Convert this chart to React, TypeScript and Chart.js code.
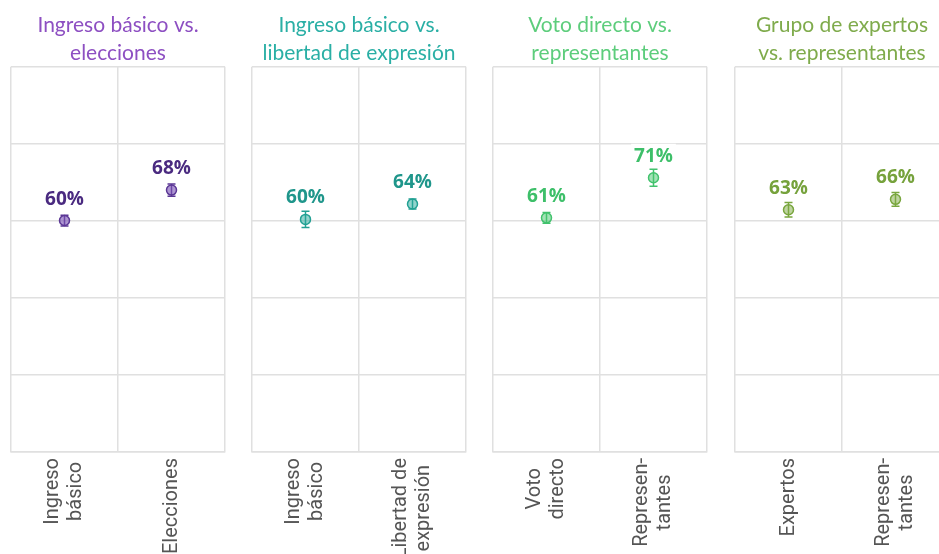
import React, { useEffect, useRef } from 'react';
import { Chart, registerables } from 'chart.js';

Chart.register(...registerables);

// ---- data ----
const panelTitles: string[][] = [
  ['Ingreso básico vs.', 'elecciones'],
  ['Ingreso básico vs.', 'libertad de expresión'],
  ['Voto directo vs.', 'representantes'],
  ['Grupo de expertos', 'vs. representantes'],
];
const categoryLines: string[][][] = [
  [['Ingreso', 'básico'], ['Elecciones']],
  [['Ingreso', 'básico'], ['Libertad de', 'expresión']],
  [['Voto', 'directo'], ['Represen-', 'tantes']],
  [['Expertos'], ['Represen-', 'tantes']],
];
const panel1Values = [60.1, 68.0];
const panel2Values = [60.4, 64.4];
const panel3Values = [60.8, 71.2];
const panel4Values = [62.9, 65.6];
const panel1Errors = [1.4, 1.6];
const panel2Errors = [2.1, 1.3];
const panel3Errors = [1.4, 2.2];
const panel4Errors = [1.9, 1.8];
const yMin = 0;
const yMax = 100;
const yStep = 20;

const panelValues = [panel1Values, panel2Values, panel3Values, panel4Values];
const panelErrors = [panel1Errors, panel2Errors, panel3Errors, panel4Errors];

// ---- styles ----
const titleColors = ['#8d4fc2', '#2aafa5', '#5dcd7c', '#7fab4c'];
const labelColors = ['#4a2a80', '#1f968b', '#3dbf69', '#76a23c'];
const pointFills = ['rgba(120,80,180,0.6)', 'rgba(40,170,155,0.5)', 'rgba(70,200,110,0.5)', 'rgba(125,170,65,0.5)'];
const pointBorders = ['#5b3795', '#22a093', '#42c26d', '#79a63e'];
const plotLefts = [11, 252, 493, 735];
const plotWidth = 214;
const sidePad = 10;
const canvasHeight = 554;
const gridColor = '#e0e0e0';

function makePanelPlugin(p: number) {
  return {
    id: 'panelDecor' + p,
    beforeDatasetsDraw(chart: any) {
      const ctx = chart.ctx;
      const meta = chart.getDatasetMeta(0);
      const ys = chart.scales.y;
      ctx.save();
      ctx.strokeStyle = pointBorders[p];
      ctx.lineWidth = 1.5;
      panelValues[p].forEach((v, i) => {
        const pt = meta.data[i];
        const e = panelErrors[p][i];
        const top = ys.getPixelForValue(v + e);
        const bot = ys.getPixelForValue(v - e);
        ctx.beginPath();
        ctx.moveTo(pt.x, top);
        ctx.lineTo(pt.x, bot);
        ctx.moveTo(pt.x - 4, top);
        ctx.lineTo(pt.x + 4, top);
        ctx.moveTo(pt.x - 4, bot);
        ctx.lineTo(pt.x + 4, bot);
        ctx.stroke();
      });
      ctx.restore();
    },
    afterDatasetsDraw(chart: any) {
      const ctx = chart.ctx;
      const meta = chart.getDatasetMeta(0);
      ctx.save();
      ctx.font = 'bold 19px "Open Sans", "Noto Sans", sans-serif';
      ctx.textAlign = 'center';
      ctx.textBaseline = 'alphabetic';
      panelValues[p].forEach((v, i) => {
        const pt = meta.data[i];
        const txt = Math.round(v) + '%';
        const w = ctx.measureText(txt).width;
        const by = pt.y - 16;
        ctx.fillStyle = '#ffffff';
        ctx.fillRect(pt.x - w / 2 - 3, by - 18, w + 6, 22);
        ctx.fillStyle = labelColors[p];
        ctx.fillText(txt, pt.x, by);
      });
      ctx.restore();
    },
    afterDraw(chart: any) {
      const ctx = chart.ctx;
      const xs = chart.scales.x;
      const lh = 23;
      ctx.save();
      ctx.font = '20px Roboto, sans-serif';
      ctx.fillStyle = '#555555';
      ctx.textAlign = 'center';
      ctx.textBaseline = 'middle';
      categoryLines[p].forEach((lines, i) => {
        const px = xs.getPixelForTick(i);
        const maxW = Math.max(...lines.map((l) => ctx.measureText(l).width));
        const cy = chart.chartArea.bottom + 6 + maxW / 2;
        lines.forEach((line, j) => {
          const lx = px + (j - (lines.length - 1) / 2) * lh;
          ctx.save();
          ctx.translate(lx, cy);
          ctx.rotate(-Math.PI / 2);
          ctx.fillText(line, 0, 0);
          ctx.restore();
        });
      });
      ctx.restore();
    },
  };
}

function Panel({ p }: { p: number }) {
  const ref = useRef<HTMLCanvasElement>(null);
  useEffect(() => {
    if (!ref.current) return;
    const chart = new Chart(ref.current, {
      type: 'line',
      data: {
        labels: categoryLines[p].map((l) => l.join(' ')),
        datasets: [
          {
            data: panelValues[p],
            showLine: false,
            pointRadius: 5,
            pointHoverRadius: 5,
            pointBackgroundColor: pointFills[p],
            pointBorderColor: pointBorders[p],
            pointBorderWidth: 1.5,
          },
        ],
      },
      options: {
        animation: false,
        responsive: false,
        maintainAspectRatio: false,
        layout: { padding: { left: sidePad, right: sidePad, top: 0, bottom: 0 } },
        plugins: {
          legend: { display: false },
          tooltip: { enabled: false },
          title: {
            display: true,
            text: panelTitles[p],
            color: titleColors[p],
            font: { family: 'Lato, "Open Sans", sans-serif', size: 21, weight: 'normal', lineHeight: 1.33 },
            padding: { top: 11, bottom: 0 },
          },
        },
        scales: {
          x: {
            type: 'category',
            offset: true,
            grid: { color: gridColor, lineWidth: 1.5, offset: true, drawTicks: false },
            border: { color: gridColor, width: 1.5 },
            ticks: { display: false },
            afterFit: (s: any) => {
              s.height = 102;
            },
          },
          y: {
            min: yMin,
            max: yMax,
            ticks: { stepSize: yStep, display: false },
            grid: { color: gridColor, lineWidth: 1.5, drawTicks: false },
            border: { display: false },
            afterFit: (s: any) => {
              s.width = 0;
            },
          },
        },
      } as any,
      plugins: [makePanelPlugin(p)],
    });
    return () => chart.destroy();
  }, [p]);
  return (
    <canvas
      ref={ref}
      width={plotWidth + sidePad * 2}
      height={canvasHeight}
      style={{ position: 'absolute', left: plotLefts[p] - sidePad, top: 0 }}
    />
  );
}

export default function App() {
  return (
    <div
      style={{
        position: 'absolute',
        left: 0,
        top: 0,
        width: 939,
        height: 554,
        overflow: 'hidden',
        background: '#ffffff',
      }}
    >
      {[0, 1, 2, 3].map((p) => (
        <Panel key={p} p={p} />
      ))}
    </div>
  );
}
